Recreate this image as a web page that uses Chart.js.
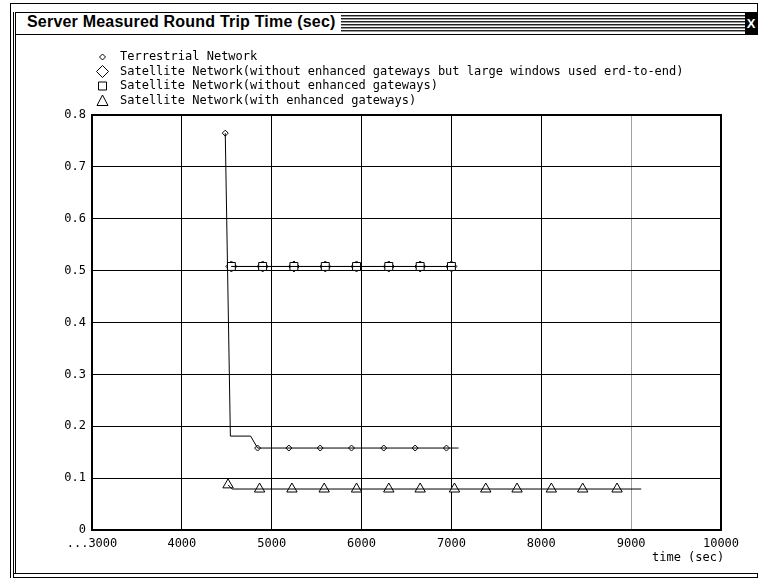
<!DOCTYPE html>
<html>
<head>
<meta charset="utf-8">
<script src="https://cdn.jsdelivr.net/npm/chart.js@4/dist/chart.umd.min.js"></script>
<style>
    body { margin: 0; background: #fff; }
    #wrap { position: relative; width: 761px; height: 578px; overflow: hidden; background: #fff; }
    .ln { position: absolute; background: #000; }
    #titlebar {
        position: absolute; left: 15px; top: 12px; width: 741px; height: 21px;
        border: 1px solid #000; background: #fff;
    }
    #titletext {
        position: absolute; left: 11px; top: 0; line-height: 21px; letter-spacing: 0.2px;
        font: bold 16px "Liberation Sans", Arial, sans-serif; color: #000;
    }
    #stripes {
        position: absolute; left: 325px; top: 2px; width: 404px; height: 17px;
        background: repeating-linear-gradient(to bottom, #222 0 1px, #999 1px 2px, #fff 2px 3px);
    }
    #closebox {
        position: absolute; left: 729px; top: 0; width: 12px; height: 21px; background: #000;
        color: #fff; font: bold 13px "Liberation Sans", Arial, sans-serif; line-height: 21px; text-align: center;
    }
    #xtitle {
        position: absolute; left: 652px; top: 550px;
        font: 12px "DejaVu Sans Mono", monospace; color: #000;
    }
    canvas { position: absolute; left: 0; top: 0; }
</style>
</head>
<body>
<div id="wrap">
    <div class="ln" style="left:10px;top:3px;width:748px;height:1px"></div>
    <div class="ln" style="left:10px;top:3px;width:1px;height:575px"></div>
    <div class="ln" style="left:757px;top:3px;width:1px;height:9px"></div>
    <div class="ln" style="left:13px;top:12px;width:1px;height:566px"></div>
    <div class="ln" style="left:15px;top:12px;width:1px;height:561px"></div>
    <div class="ln" style="left:13px;top:573px;width:745px;height:1px"></div>
    <div class="ln" style="left:13px;top:577px;width:745px;height:1px"></div>
    <div class="ln" style="left:757px;top:573px;width:1px;height:5px"></div>
    <div id="titlebar">
        <span id="titletext">Server Measured Round Trip Time (sec)</span>
        <div id="stripes"></div>
        <div id="closebox">X</div>
    </div>
    <canvas id="grafico_rtt" width="761" height="578"></canvas>
    <div id="xtitle">time (sec)</div>
</div>
<script>
// legenda
const nomes = [
    'Terrestrial Network',
    'Satellite Network(without enhanced gateways but large windows used erd-to-end)',
    'Satellite Network(without enhanced gateways)',
    'Satellite Network(with enhanced gateways)'
]

// Terrestrial Network
const terr_linha_t = [4483, 4540, 4765, 4843, 7079]
const terr_linha_v = [0.765, 0.181, 0.181, 0.158, 0.158]
const terr_t = [4483, 4843, 5191, 5539, 5888, 6247, 6596, 6944]
const terr_v = [0.765, 0.158, 0.158, 0.158, 0.158, 0.158, 0.158, 0.158]

// Satellite, large windows end-to-end
const sat_lw_linha_t = [4551, 7040]
const sat_lw_linha_v = [0.508, 0.508]
const sat_lw_t = [4551, 4899, 5247, 5596, 5944, 6303, 6652, 7000]
const sat_lw_v = [0.508, 0.508, 0.508, 0.508, 0.508, 0.508, 0.508, 0.508]

// Satellite, without enhanced gateways
const sat_sem_linha_t = [4551, 7040]
const sat_sem_linha_v = [0.508, 0.508]
const sat_sem_t = [4551, 4899, 5247, 5596, 5944, 6303, 6652, 7000]
const sat_sem_v = [0.508, 0.508, 0.508, 0.508, 0.508, 0.508, 0.508, 0.508]

// Satellite, with enhanced gateways
const sat_com_linha_t = [4514, 4560, 9112]
const sat_com_linha_v = [0.087, 0.079, 0.079]
const sat_com_t = [4514, 4865, 5225, 5584, 5944, 6303, 6652, 7034, 7382, 7730, 8112, 8461, 8843]
const sat_com_v = [0.087, 0.079, 0.079, 0.079, 0.079, 0.079, 0.079, 0.079, 0.079, 0.079, 0.079, 0.079, 0.079]

const ticks_x = [3000, 4000, 5000, 6000, 7000, 8000, 9000, 10000]
const ticks_y = [0, 0.1, 0.2, 0.3, 0.4, 0.5, 0.6, 0.7, 0.8]

function pontos(t, v) {
    return t.map((x, i) => ({ x: x, y: v[i] }))
}

function linha(t, v) {
    return {
        data: pontos(t, v),
        showLine: true,
        borderColor: '#000',
        borderWidth: 1,
        pointRadius: 0,
        pointHoverRadius: 0,
    }
}

function marcas(t, v, estilo, raio) {
    return {
        data: pontos(t, v),
        showLine: false,
        pointStyle: estilo,
        pointRadius: raio,
        pointHoverRadius: raio,
        borderColor: '#000',
        backgroundColor: '#fff',
        pointBorderWidth: 1,
    }
}

const fonte_mono = { family: 'DejaVu Sans Mono', size: 12 }

// desenha borda grossa e a legenda
const extras = {
    id: 'extras',
    afterDraw(chart) {
        const ctx = chart.ctx
        const a = chart.chartArea
        ctx.save()
        ctx.strokeStyle = '#000'
        ctx.lineWidth = 2
        ctx.strokeRect(a.left, a.top, a.right - a.left, a.bottom - a.top)

        ctx.lineWidth = 1
        ctx.fillStyle = '#000'
        ctx.font = '12px "DejaVu Sans Mono"'
        ctx.textBaseline = 'middle'
        const sx = 102.5
        const ys = [57, 71.5, 86, 101]
        nomes.forEach((nome, i) => {
            const y = ys[i]
            ctx.beginPath()
            if (i === 0) {
                ctx.moveTo(sx, y - 3); ctx.lineTo(sx + 3, y); ctx.lineTo(sx, y + 3); ctx.lineTo(sx - 3, y); ctx.closePath()
            } else if (i === 1) {
                ctx.moveTo(sx, y - 6); ctx.lineTo(sx + 6, y); ctx.lineTo(sx, y + 6); ctx.lineTo(sx - 6, y); ctx.closePath()
            } else if (i === 2) {
                ctx.rect(sx - 4, y - 4, 8, 8)
            } else {
                ctx.moveTo(sx, y - 6); ctx.lineTo(sx + 5.5, y + 4.5); ctx.lineTo(sx - 5.5, y + 4.5); ctx.closePath()
            }
            ctx.stroke()
            ctx.fillText(nome, 120, y)
        })
        ctx.restore()
    }
}

const config_rtt = {
    type: 'scatter',
    data: {
        datasets: [
            linha(terr_linha_t, terr_linha_v),
            linha(sat_lw_linha_t, sat_lw_linha_v),
            linha(sat_sem_linha_t, sat_sem_linha_v),
            linha(sat_com_linha_t, sat_com_linha_v),
            marcas(terr_t, terr_v, 'rectRot', 3),
            marcas(sat_sem_t, sat_sem_v, 'rect', 5.6),
            marcas(sat_lw_t, sat_lw_v, 'rectRot', 5.5),
            marcas(sat_com_t, sat_com_v, 'triangle', 6),
        ]
    },
    options: {
        responsive: false,
        animation: false,
        events: [],
        layout: {
            padding: { left: 32, top: 115, right: 40, bottom: 8 }
        },
        plugins: {
            legend: { display: false },
            title: { display: false },
            tooltip: { enabled: false }
        },
        scales: {
            x: {
                type: 'linear',
                min: 3000,
                max: 10000,
                afterFit: (s) => { s.height = 40 },
                afterBuildTicks: (s) => { s.ticks = ticks_x.map(v => ({ value: v })) },
                grid: {
                    drawTicks: false,
                    color: (c) => c.tick && c.tick.value === 9000 ? '#a0a0a0' : '#000',
                    lineWidth: 1
                },
                border: { color: '#000', width: 2 },
                ticks: {
                    padding: 7,
                    color: '#000',
                    font: fonte_mono,
                    maxRotation: 0,
                    callback: (v) => v === 3000 ? '...3000' : String(v)
                }
            },
            y: {
                type: 'linear',
                min: 0,
                max: 0.8,
                afterFit: (s) => { s.width = 60 },
                afterBuildTicks: (s) => { s.ticks = ticks_y.map(v => ({ value: v })) },
                grid: {
                    drawTicks: false,
                    color: '#000',
                    lineWidth: 1
                },
                border: { color: '#000', width: 2 },
                ticks: {
                    padding: 6,
                    color: '#000',
                    font: fonte_mono,
                    callback: (v) => v === 0 ? '0' : v.toFixed(1)
                }
            }
        }
    },
    plugins: [extras]
}

const graficoRtt = new Chart(document.querySelector('#grafico_rtt'), config_rtt)
</script>
</body>
</html>
